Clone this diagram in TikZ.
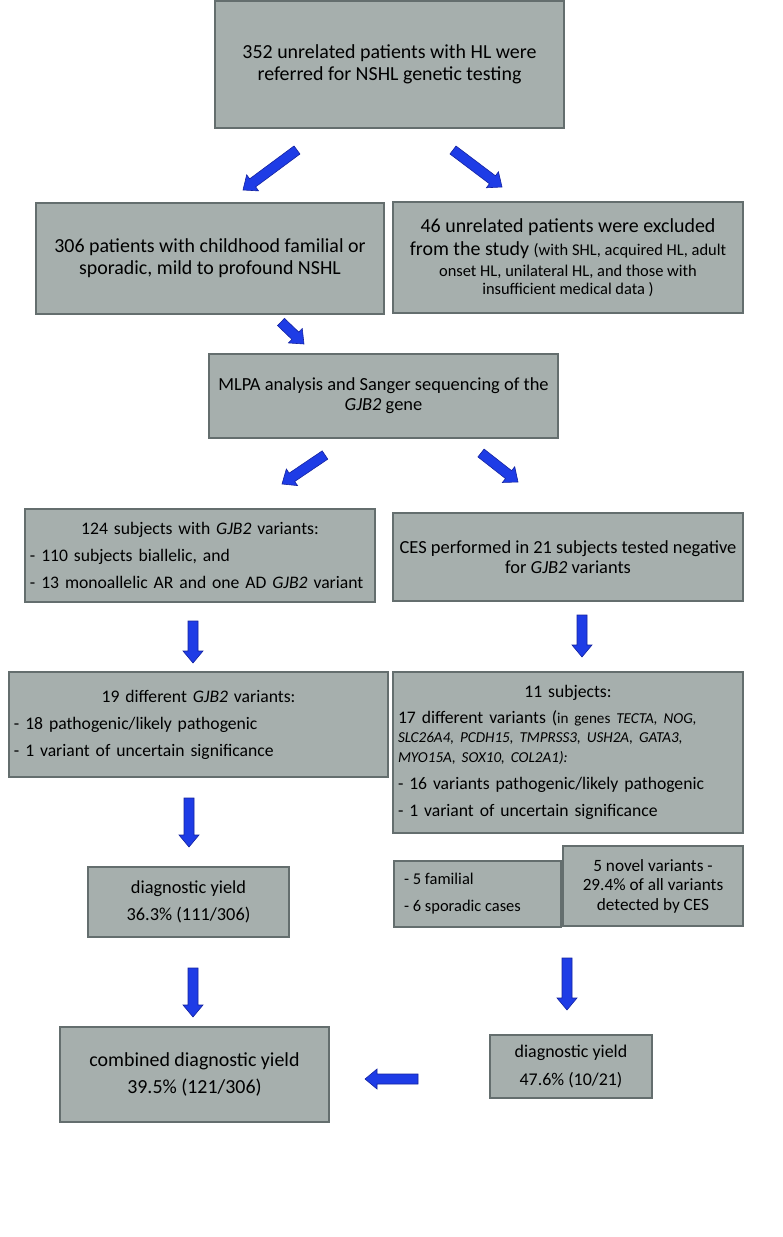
\documentclass[tikz,border=0pt]{standalone}
\usepackage{fontspec}
\setmainfont{Carlito}
\usetikzlibrary{calc}
\definecolor{boxfill}{RGB}{166,175,173}
\definecolor{boxline}{RGB}{100,110,110}
\definecolor{arrfill}{RGB}{30,60,230}
\definecolor{arrline}{RGB}{20,35,160}
\newcommand{\fsL}{\fontsize{20}{22}\selectfont}
\newcommand{\fsM}{\fontsize{18.5}{20}\selectfont}
\newcommand{\fsN}{\fontsize{17.7}{20}\selectfont}
\newcommand{\fsS}{\fontsize{15.2}{19}\selectfont}
\newcommand{\fsP}{\fontsize{16.5}{19}\selectfont}
\tikzset{
  box/.style={draw=boxline, fill=boxfill, line width=1.2bp, inner sep=0pt, align=center},
  listbox/.style={draw=boxline, fill=boxfill, line width=1.2bp, inner xsep=5bp, inner ysep=0pt},
  barrow/.style={fill=arrfill, draw=arrline, line width=0.6bp, line join=miter},
}
\newcommand{\blockarrow}[2]{%
  \coordinate (BAn) at ($(#2)!12bp!(#1)$);
  \filldraw[barrow] ($(#1)!5bp!90:(#2)$) -- ($(BAn)!5bp!90:(#2)$) -- ($(BAn)!10bp!90:(#2)$) -- (#2)
    -- ($(BAn)!10bp!-90:(#2)$) -- ($(BAn)!5bp!-90:(#2)$) -- ($(#1)!5bp!-90:(#2)$) -- cycle;}
\begin{document}
\begin{tikzpicture}[x=1bp,y=-1bp]
\useasboundingbox (0,0) rectangle (783,1237);
% boxes
\node[box, minimum width=349bp, minimum height=127bp, font=\fsL] (top) at (389.5,64.5)
  {352 unrelated patients with HL were\\referred for NSHL genetic testing};
\node[box, minimum width=348bp, minimum height=111bp, font=\fsL] (n306) at (210,258.5)
  {306 patients with childhood familial or\\sporadic, mild to profound NSHL};
\node[box, minimum width=350bp, minimum height=111bp, font=\fsL] (n46) at (568,257.5)
  {\fontsize{20}{21}\selectfont 46 unrelated patients were excluded\\[1bp]
   from the study {\fsP(with SHL, acquired HL, adult}\\[-1bp]
   {\fsP onset HL, unilateral HL, and those with}\\[-4bp]
   {\fsP insufficient medical data )}};
\node[box, minimum width=349bp, minimum height=84bp, font=\fsM] (mlpa) at (383.5,396)
  {MLPA analysis and Sanger sequencing of the\\\textit{GJB2} gene};
\node[listbox, text width=340bp, minimum height=93bp, font=\fsN] (n124) at (200,555.5)
  {\parskip=7bp {\centering 124 subjects with \textit{GJB2} variants:\par}
   \raggedright - 110 subjects biallelic, and\par
   - 13 monoallelic AR and one AD \textit{GJB2} variant\par};
\node[box, minimum width=350bp, minimum height=88bp, font=\fsM] (ces) at (568,557)
  {CES performed in 21 subjects tested negative\\for \textit{GJB2} variants};
\node[listbox, text width=369bp, minimum height=105bp, font=\fsN] (n19) at (198.5,724.5)
  {\parskip=7bp {\centering 19 different \textit{GJB2} variants:\par}
   \raggedright - 18 pathogenic/likely pathogenic\par
   - 1 variant of uncertain significance\par};
\node[listbox, text width=340bp, minimum height=161bp, font=\fsN] (n11) at (568,752.5)
  {\parskip=7bp {\centering 11 subjects:\par}
   \raggedright 17 different variants ({\fsS in genes \textit{TECTA, NOG,}\\
   \textit{SLC26A4, PCDH15, TMPRSS3, USH2A, GATA3,}\\
   \textit{MYO15A, SOX10, COL2A1):}}\par
   - 16 variants pathogenic/likely pathogenic\par
   - 1 variant of uncertain significance\par};
\node[box, minimum width=201bp, minimum height=70bp, font=\fontsize{18.4}{27}\selectfont] (dyl) at (188.5,902)
  {diagnostic yield\\36.3\% (111/306)};
\node[box, minimum width=167bp, minimum height=66bp, align=left, font=\fontsize{16.5}{27}\selectfont] (fam) at (477.5,894)
  {- 5 familial\\- 6 sporadic cases\hspace*{30bp}};
\node[box, minimum width=180bp, minimum height=80bp, font=\fontsize{17.3}{19.5}\selectfont] (novel) at (653,886)
  {5 novel variants -\\29.4\% of all variants\\detected by CES};
\node[box, minimum width=162bp, minimum height=63bp, font=\fontsize{18}{29}\selectfont] (dyr) at (571,1066.5)
  {diagnostic yield\\47.6\% (10/21)};
\node[box, minimum width=269bp, minimum height=95bp, font=\fontsize{20}{28}\selectfont] (comb) at (194.5,1074.5)
  {combined diagnostic yield\\39.5\% (121/306)};
% arrow end points
\coordinate (a1s) at (297,150); \coordinate (a1e) at (243,190);
\coordinate (a2s) at (453,150); \coordinate (a2e) at (502,187);
\coordinate (a3s) at (281,322); \coordinate (a3e) at (304,344);
\coordinate (a4s) at (325,455); \coordinate (a4e) at (282,484);
\coordinate (a5s) at (481,453); \coordinate (a5e) at (518,482);
\coordinate (a6s) at (193,621); \coordinate (a6e) at (193,663);
\coordinate (a7s) at (582,615); \coordinate (a7e) at (582,657);
\coordinate (a8s) at (189,798); \coordinate (a8e) at (189,847);
\coordinate (a9s) at (193,968); \coordinate (a9e) at (193,1017);
\coordinate (a10s) at (567,958); \coordinate (a10e) at (567,1010);
\coordinate (a11s) at (418,1079); \coordinate (a11e) at (365,1079);
\blockarrow{a1s}{a1e}
\blockarrow{a2s}{a2e}
\blockarrow{a3s}{a3e}
\blockarrow{a4s}{a4e}
\blockarrow{a5s}{a5e}
\blockarrow{a6s}{a6e}
\blockarrow{a7s}{a7e}
\blockarrow{a8s}{a8e}
\blockarrow{a9s}{a9e}
\blockarrow{a10s}{a10e}
\blockarrow{a11s}{a11e}
\end{tikzpicture}
\end{document}
